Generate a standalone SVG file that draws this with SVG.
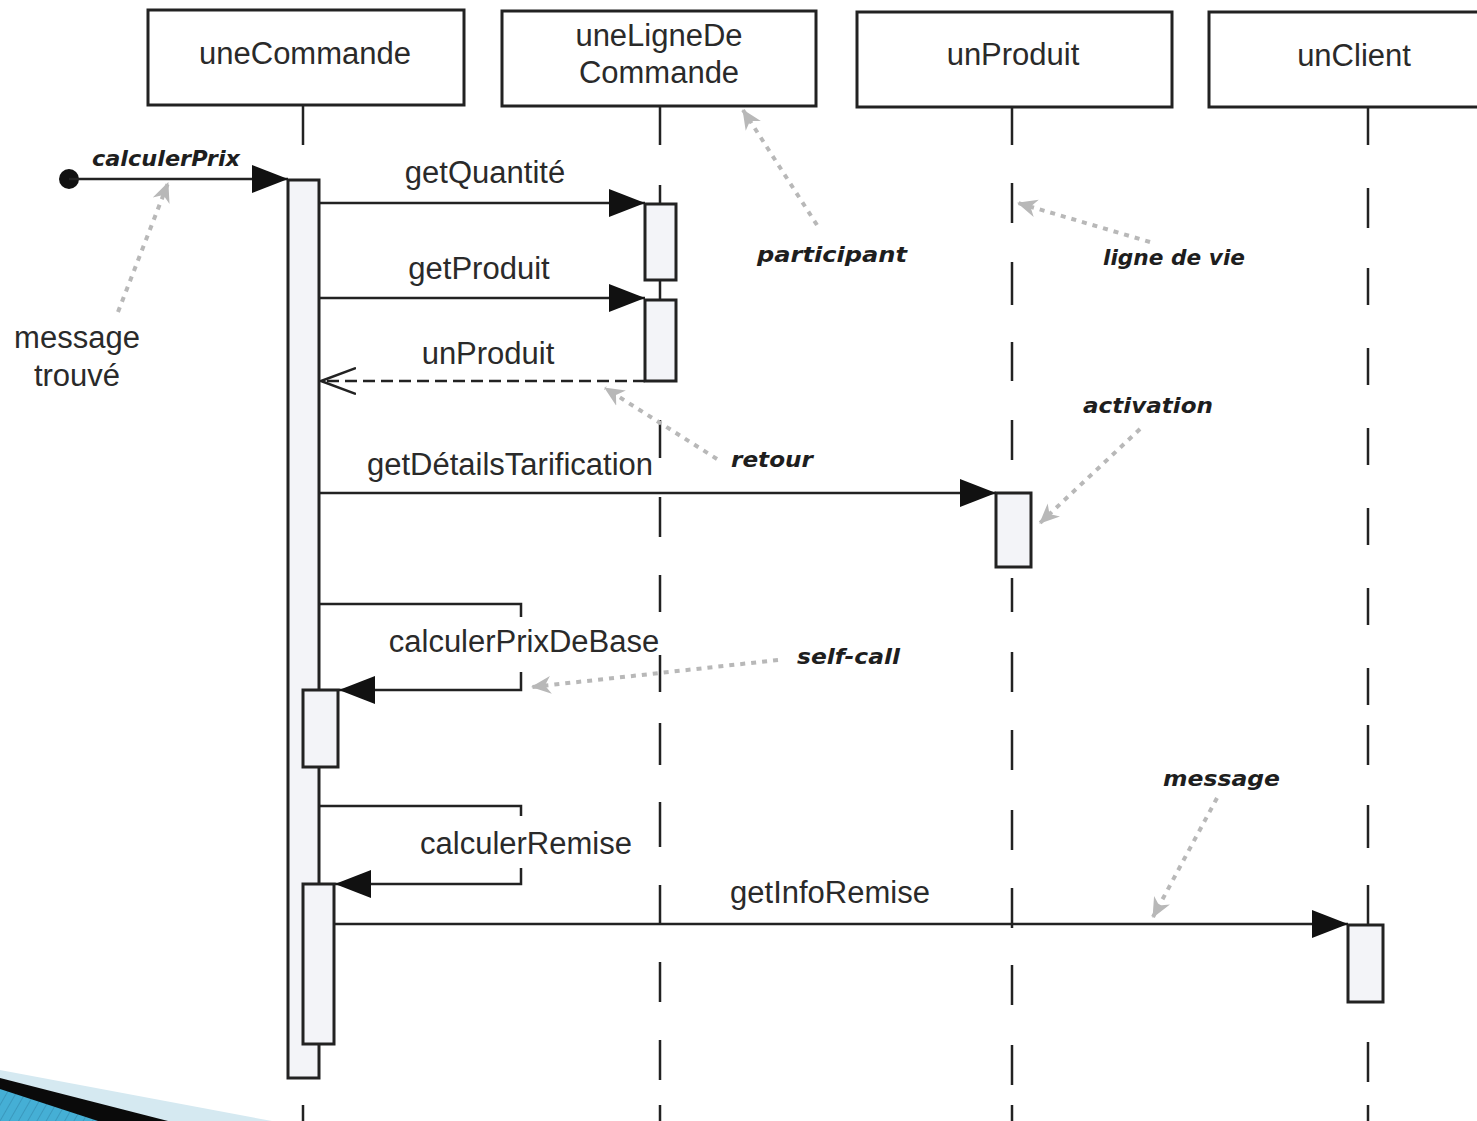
<svg xmlns="http://www.w3.org/2000/svg" width="1477" height="1121" viewBox="0 0 1477 1121">
  <style>
    .box { fill: #ffffff; stroke: #222; stroke-width: 3; }
    .act { fill: #f3f4f8; stroke: #222; stroke-width: 3; }
    .life { fill: none; stroke: #222; stroke-width: 2.5; }
    .msg { fill: none; stroke: #222; stroke-width: 2.5; }
    .ret { fill: none; stroke: #222; stroke-width: 2.5; stroke-dasharray: 12 6; }
    .note { fill: none; stroke: #b8b8b8; stroke-width: 4; stroke-dasharray: 5 6; }
    .lbl { font-family: "Liberation Sans", Arial, sans-serif; font-size: 31px; fill: #2a2a2a; text-anchor: middle; }
    .hand { font-family: "DejaVu Sans", sans-serif; font-size: 22px; font-weight: bold; font-style: oblique; fill: #1e1e1e; }
  </style>
  <defs>
    <marker id="solid" viewBox="0 0 36 28" markerWidth="36" markerHeight="28" refX="36" refY="14" orient="auto" markerUnits="userSpaceOnUse">
      <path d="M0,0 L36,14 L0,28 z" fill="#111"/>
    </marker>
    <marker id="open" viewBox="0 0 36 28" markerWidth="36" markerHeight="28" refX="35" refY="14" orient="auto" markerUnits="userSpaceOnUse">
      <path d="M0,1 L35,14 L0,27" fill="none" stroke="#222" stroke-width="2.5"/>
    </marker>
    <marker id="grey" viewBox="0 0 20 20" markerWidth="20" markerHeight="20" refX="19" refY="10" orient="auto" markerUnits="userSpaceOnUse">
      <path d="M0,1 L20,10 L0,19 L6,10 z" fill="#b8b8b8"/>
    </marker>
    <pattern id="hatch" width="8" height="8" patternUnits="userSpaceOnUse" patternTransform="rotate(30)">
      <rect width="8" height="8" fill="#45afd5"/>
      <line x1="0" y1="0" x2="0" y2="8" stroke="#3a98bd" stroke-width="2"/>
    </pattern>
  </defs>

  <rect width="1477" height="1121" fill="#ffffff"/>

  <!-- slide bullet ornament, bottom left -->
  <g id="ornament">
    <polygon points="0,1070 272,1121 0,1121" fill="#d5e9f1"/>
    <polygon points="0,1078 168,1121 0,1121" fill="#0a0a0a"/>
    <polygon points="0,1089 98,1121 0,1121" fill="url(#hatch)"/>
  </g>

  <!-- lifelines -->
  <g id="lifelines">
    <path class="life" d="M303,106 V145 M303,1105 V1121"/>
    <path class="life" d="M660,107 V145 M660,185 V204 M660,280 V300 M660,420 V458 M660,497 V537 M660,575 V612 M660,655 V692 M660,723 V765 M660,802 V847 M660,885 V923 M660,962 V1002 M660,1040 V1080 M660,1105 V1121"/>
    <path class="life" d="M1012,108 V145 M1012,183 V223 M1012,262 V305 M1012,342 V381 M1012,420 V460 M1012,578 V612 M1012,652 V692 M1012,730 V770 M1012,810 V850 M1012,888 V928 M1012,965 V1005 M1012,1045 V1085 M1012,1105 V1121"/>
    <path class="life" d="M1368,108 V145 M1368,188 V228 M1368,268 V305 M1368,348 V385 M1368,428 V465 M1368,508 V545 M1368,588 V625 M1368,668 V705 M1368,725 V765 M1368,805 V848 M1368,885 V925 M1368,1042 V1082 M1368,1105 V1121"/>
  </g>

  <!-- participants -->
  <g id="uneCommande">
    <rect class="box" x="148" y="10" width="316" height="95"/>
    <text class="lbl" x="305" y="64">uneCommande</text>
  </g>
  <g id="uneLigneDeCommande">
    <rect class="box" x="502" y="11" width="314" height="95"/>
    <text class="lbl" x="659" y="46">uneLigneDe</text>
    <text class="lbl" x="659" y="83">Commande</text>
  </g>
  <g id="unProduit">
    <rect class="box" x="857" y="12" width="315" height="95"/>
    <text class="lbl" x="1013" y="65">unProduit</text>
  </g>
  <g id="unClient">
    <rect class="box" x="1209" y="12" width="272" height="95"/>
    <text class="lbl" x="1354" y="66">unClient</text>
  </g>

  <!-- activation bars -->
  <g id="activations">
    <rect class="act" x="288" y="180" width="31" height="898"/>
    <rect class="act" x="645" y="204" width="31" height="76"/>
    <rect class="act" x="645" y="300" width="31" height="81"/>
    <rect class="act" x="996" y="493" width="35" height="74"/>
    <rect class="act" x="303" y="690" width="35" height="77"/>
    <rect class="act" x="303" y="884" width="31" height="160"/>
    <rect class="act" x="1348" y="925" width="35" height="77"/>
  </g>

  <!-- messages -->
  <g id="connectors">
    <circle cx="69" cy="179" r="10" fill="#111"/>
    <line class="msg" x1="69" y1="179" x2="288" y2="179" marker-end="url(#solid)"/>
    <line class="msg" x1="319" y1="203" x2="645" y2="203" marker-end="url(#solid)"/>
    <line class="msg" x1="319" y1="298" x2="645" y2="298" marker-end="url(#solid)"/>
    <line class="ret" x1="645" y1="381" x2="321" y2="381" marker-end="url(#open)"/>
    <line class="msg" x1="319" y1="493" x2="996" y2="493" marker-end="url(#solid)"/>
    <path class="msg" d="M319,604 H521 V617"/>
    <path class="msg" d="M521,672 V690 H339" marker-end="url(#solid)"/>
    <path class="msg" d="M319,806 H521 V816"/>
    <path class="msg" d="M521,868 V884 H335" marker-end="url(#solid)"/>
    <line class="msg" x1="334" y1="924" x2="1348" y2="924" marker-end="url(#solid)"/>
  </g>

  <!-- message labels -->
  <g id="message-labels">
    <text class="hand" x="92" y="166" textLength="148" lengthAdjust="spacingAndGlyphs">calculerPrix</text>
    <text class="lbl" x="485" y="183">getQuantité</text>
    <text class="lbl" x="479" y="279">getProduit</text>
    <text class="lbl" x="488" y="364">unProduit</text>
    <text class="lbl" x="510" y="475">getDétailsTarification</text>
    <text class="lbl" x="524" y="652">calculerPrixDeBase</text>
    <text class="lbl" x="526" y="854">calculerRemise</text>
    <text class="lbl" x="830" y="903">getInfoRemise</text>
  </g>

  <!-- explanatory notes -->
  <g id="notes">
    <line class="note" x1="118" y1="312" x2="168" y2="183" marker-end="url(#grey)"/>
    <text class="lbl" x="77" y="348">message</text>
    <text class="lbl" x="77" y="386">trouvé</text>

    <line class="note" x1="817" y1="225" x2="743" y2="110" marker-end="url(#grey)"/>
    <text class="hand" x="757" y="262" textLength="150" lengthAdjust="spacingAndGlyphs">participant</text>

    <line class="note" x1="1150" y1="242" x2="1018" y2="203" marker-end="url(#grey)"/>
    <text class="hand" x="1103" y="265" textLength="142" lengthAdjust="spacingAndGlyphs">ligne de vie</text>

    <line class="note" x1="717" y1="459" x2="605" y2="388" marker-end="url(#grey)"/>
    <text class="hand" x="731" y="467" textLength="82" lengthAdjust="spacingAndGlyphs">retour</text>

    <line class="note" x1="1140" y1="429" x2="1040" y2="523" marker-end="url(#grey)"/>
    <text class="hand" x="1083" y="413" textLength="130" lengthAdjust="spacingAndGlyphs">activation</text>

    <line class="note" x1="778" y1="660" x2="532" y2="687" marker-end="url(#grey)"/>
    <text class="hand" x="797" y="664" textLength="103" lengthAdjust="spacingAndGlyphs">self-call</text>

    <line class="note" x1="1217" y1="798" x2="1153" y2="917" marker-end="url(#grey)"/>
    <text class="hand" x="1163" y="786" textLength="117" lengthAdjust="spacingAndGlyphs">message</text>
  </g>
</svg>
